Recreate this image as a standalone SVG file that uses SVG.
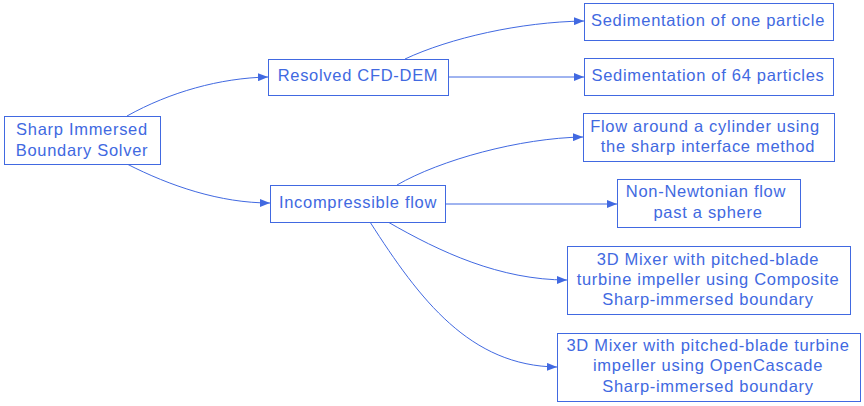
<svg xmlns="http://www.w3.org/2000/svg" width="864" height="406" viewBox="0 0 864 406">
<style>
.n rect{fill:#fff;stroke:#4169e1;stroke-width:1}
.n text{font-family:"Liberation Sans",Arial,sans-serif;font-size:16.5px;letter-spacing:0.7px;fill:#4169e1;text-anchor:middle}
.e path{fill:none;stroke:#4169e1;stroke-width:1}
</style>
<defs>
<marker id="ah" markerWidth="10" markerHeight="8" refX="10" refY="4" orient="auto" markerUnits="userSpaceOnUse">
<path d="M0,0 L10,4 L0,8 Z" fill="#4169e1"/>
</marker>
</defs>
<rect width="864" height="406" fill="#fff"/>
<g id="edges" class="e">
<path d="M127,116 C170,92 220,78 268,77" marker-end="url(#ah)"/>
<path d="M127,164 C170,186 220,203 270,203" marker-end="url(#ah)"/>
<path d="M405,59 C450,38 520,22 584,21" marker-end="url(#ah)"/>
<path d="M448,77 L584,77" marker-end="url(#ah)"/>
<path d="M397,185 C440,160 520,138 583,137" marker-end="url(#ah)"/>
<path d="M445,204 L617,204" marker-end="url(#ah)"/>
<path d="M388,222 C440,252 500,280 567,280" marker-end="url(#ah)"/>
<path d="M370,222 C420,300 470,366 557,367" marker-end="url(#ah)"/>
</g>
<g id="sharp" class="n"><rect x="4.5" y="116.5" width="156" height="48"/><text x="82" y="135">Sharp Immersed</text><text x="82" y="156">Boundary Solver</text></g>
<g id="resolved" class="n"><rect x="268.5" y="59.5" width="180" height="36"/><text x="358" y="81">Resolved CFD-DEM</text></g>
<g id="incomp" class="n"><rect x="270.5" y="185.5" width="175" height="37"/><text x="358" y="208">Incompressible flow</text></g>
<g id="sedone" class="n"><rect x="584.5" y="3.5" width="249" height="37"/><text x="708" y="26">Sedimentation of one particle</text></g>
<g id="sed64" class="n"><rect x="584.5" y="58.5" width="249" height="37"/><text x="708" y="81">Sedimentation of 64 particles</text></g>
<g id="cyl" class="n"><rect x="583.5" y="113.5" width="251" height="48"/><text x="705" y="132">Flow around a cylinder using</text><text x="708" y="152">the sharp interface method</text></g>
<g id="nonnewt" class="n"><rect x="617.5" y="179.5" width="183" height="48"/><text x="706" y="197">Non-Newtonian flow</text><text x="708" y="218">past a sphere</text></g>
<g id="mixcomp" class="n"><rect x="567.5" y="246.5" width="283" height="68"/><text x="708" y="265">3D Mixer with pitched-blade</text><text x="708" y="285">turbine impeller using Composite</text><text x="708" y="305">Sharp-immersed boundary</text></g>
<g id="mixocc" class="n"><rect x="557.5" y="333.5" width="303" height="68"/><text x="708" y="351">3D Mixer with pitched-blade turbine</text><text x="708" y="371">impeller using OpenCascade</text><text x="708" y="392">Sharp-immersed boundary</text></g>
</svg>
